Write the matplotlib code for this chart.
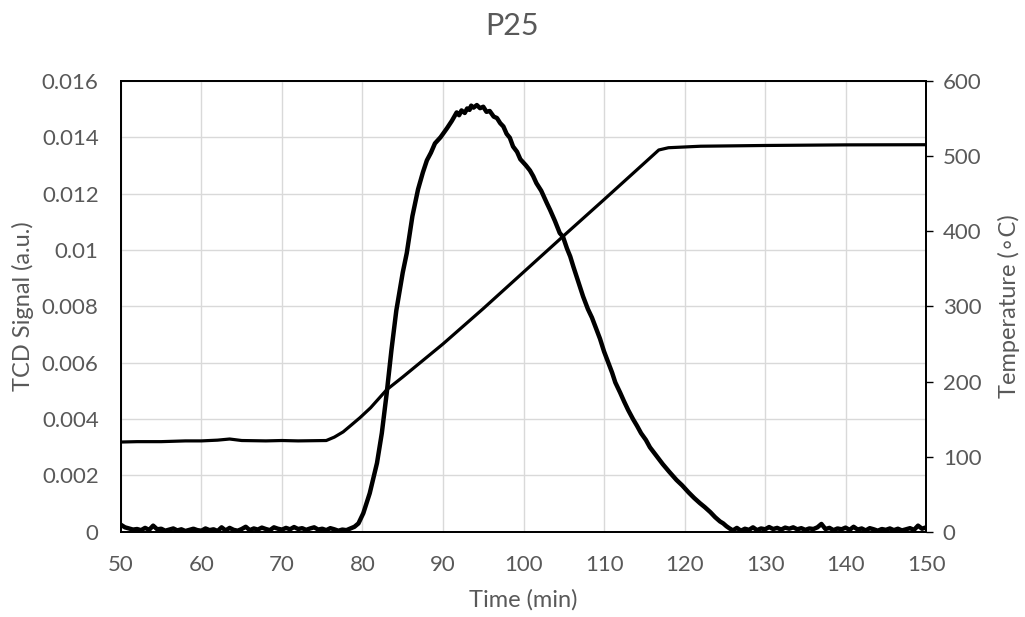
import matplotlib
matplotlib.use("Agg")
import matplotlib.pyplot as plt
import numpy as np

plt.rcParams['font.family'] = ['Lato', 'DejaVu Sans']

# TCD signal (a.u.) - baseline before the peak
t_pre = [50.0, 50.5, 51.0, 51.5, 52.0, 52.5, 53.0, 53.5, 54.0, 54.5, 55.0, 55.5,
         56.0, 56.5, 57.0, 57.5, 58.0, 58.5, 59.0, 59.5, 60.0, 60.5, 61.0, 61.5,
         62.0, 62.5, 63.0, 63.5, 64.0, 64.5, 65.0, 65.5, 66.0, 66.5, 67.0, 67.5,
         68.0, 68.5, 69.0, 69.5, 70.0, 70.5, 71.0, 71.5, 72.0, 72.5, 73.0, 73.5,
         74.0, 74.5, 75.0, 75.5, 76.0, 76.5, 77.0, 77.5, 78.0, 78.5]
tcd_pre = [0.00025, 0.00016, 0.00012, 0.00008, 0.00010, 0.00006, 0.00014, 0.00007,
           0.00022, 0.00009, 0.00011, 0.00004, 0.00008, 0.00012, 0.00005, 0.00009,
           0.00003, 0.00007, 0.00011, 0.00006, 0.00004, 0.00012, 0.00006, 0.00009,
           0.00003, 0.00016, 0.00005, 0.00014, 0.00007, 0.00004, 0.00010, 0.00018,
           0.00006, 0.00012, 0.00008, 0.00015, 0.00010, 0.00006, 0.00016, 0.00011,
           0.00008, 0.00014, 0.00009, 0.00017, 0.00010, 0.00013, 0.00007, 0.00012,
           0.00016, 0.00008, 0.00011, 0.00006, 0.00013, 0.00009, 0.00004, 0.00008,
           0.00006, 0.00012]

# TCD signal - the desorption peak
t_peak = [79.0, 79.5, 80.1, 80.9, 81.8, 82.4, 83.0, 83.6, 84.2, 85.0, 85.5, 86.2,
          86.9, 87.5, 88.0, 88.5, 89.0, 89.7, 90.5, 91.1, 91.7, 92.0, 92.3, 92.7,
          93.0, 93.3, 93.5, 93.8, 94.2, 94.6, 95.0, 95.4, 95.8, 96.3, 96.7, 97.1,
          97.5, 97.9, 98.3, 98.7, 99.2, 99.6, 100.3, 100.8, 101.2, 101.6, 102.2,
          102.9, 103.3, 103.9, 104.5, 104.9, 105.4, 105.8, 106.2, 106.6, 107.0,
          107.4, 108.0, 108.5, 109.0, 109.5, 110.0, 110.5, 111.0, 111.4, 112.0,
          112.5, 113.0, 113.6, 114.1, 114.6, 115.2, 115.7, 116.5, 117.3, 118.1,
          119.0, 119.7, 120.5, 121.2, 121.9, 122.5, 123.2, 123.8, 124.4, 124.8,
          125.2, 125.6]
tcd_peak = [0.00018, 0.00030, 0.00066, 0.00137, 0.00244, 0.00350, 0.00490, 0.00646,
            0.00785, 0.00920, 0.00989, 0.01120, 0.01215, 0.01275, 0.01318, 0.01345,
            0.01378, 0.01400, 0.01432, 0.01458, 0.01488, 0.01478, 0.01495, 0.01486,
            0.01502, 0.01497, 0.01512, 0.01505, 0.01514, 0.01503, 0.01508, 0.01490,
            0.01493, 0.01473, 0.01468, 0.01450, 0.01438, 0.01412, 0.01398, 0.01367,
            0.01348, 0.01322, 0.01300, 0.01282, 0.01262, 0.01237, 0.01210, 0.01166,
            0.01142, 0.01103, 0.01060, 0.01047, 0.01005, 0.00977, 0.00940, 0.00905,
            0.00870, 0.00835, 0.00790, 0.00760, 0.00722, 0.00685, 0.00640, 0.00602,
            0.00565, 0.00530, 0.00494, 0.00462, 0.00432, 0.00400, 0.00376, 0.00350,
            0.00326, 0.00300, 0.00270, 0.00240, 0.00213, 0.00184, 0.00165, 0.00140,
            0.00120, 0.00102, 0.00088, 0.00070, 0.00052, 0.00037, 0.00030, 0.00020,
            0.00012]

# TCD signal - baseline after the peak
t_post = [126.0, 126.5, 127.0, 127.5, 128.0, 128.5, 129.0, 129.5, 130.0, 130.5,
          131.0, 131.5, 132.0, 132.5, 133.0, 133.5, 134.0, 134.5, 135.0, 135.5,
          136.0, 136.5, 137.0, 137.5, 138.0, 138.5, 139.0, 139.5, 140.0, 140.5,
          141.0, 141.5, 142.0, 142.5, 143.0, 143.5, 144.0, 144.5, 145.0, 145.5,
          146.0, 146.5, 147.0, 147.5, 148.0, 148.5, 149.0, 149.5, 150.0]
tcd_post = [0.00005, 0.00014, 0.00004, 0.00011, 0.00007, 0.00016, 0.00006, 0.00012,
            0.00009, 0.00017, 0.00010, 0.00014, 0.00008, 0.00015, 0.00011, 0.00016,
            0.00009, 0.00013, 0.00007, 0.00012, 0.00010, 0.00016, 0.00028, 0.00010,
            0.00014, 0.00006, 0.00012, 0.00009, 0.00015, 0.00007, 0.00018, 0.00008,
            0.00012, 0.00005, 0.00013, 0.00009, 0.00004, 0.00010, 0.00007, 0.00012,
            0.00006, 0.00011, 0.00005, 0.00009, 0.00013, 0.00007, 0.00022, 0.00011,
            0.00016]

# Temperature ramp (deg C)
t_temp = [50.0, 52.0, 55.0, 58.0, 60.0, 62.0, 63.5, 65.0, 68.0, 70.0, 72.0, 75.5,
          76.5, 77.6, 78.6, 79.7, 81.0, 83.0, 85.0, 90.0, 95.0, 100.0, 105.0, 110.0,
          115.0, 116.8, 118.0, 122.0, 130.0, 140.0, 150.0]
temp = [119.5, 120.0, 120.0, 121.0, 121.0, 122.0, 123.5, 121.5, 121.0, 121.5, 121.0,
        121.5, 126.0, 133.0, 142.0, 152.0, 165.0, 189.0, 206.0, 250.0, 297.0, 345.5,
        394.0, 442.0, 490.5, 508.0, 511.0, 513.0, 514.0, 514.8, 515.0]

x_ticks = [50, 60, 70, 80, 90, 100, 110, 120, 130, 140, 150]
y1_ticks = [0, 0.002, 0.004, 0.006, 0.008, 0.01, 0.012, 0.014, 0.016]
y1_labels = ["0", "0.002", "0.004", "0.006", "0.008", "0.01", "0.012", "0.014", "0.016"]
y2_ticks = [0, 100, 200, 300, 400, 500, 600]

t_tcd = t_pre + t_peak + t_post
tcd = tcd_pre + tcd_peak + tcd_post

grey = "#595959"

fig = plt.figure(figsize=(10.25, 6.17), dpi=100)
ax = fig.add_axes([0.118, 0.138, 0.7855, 0.731])
ax2 = ax.twinx()

ax.plot(t_tcd, tcd, color="black", lw=3.2, solid_joinstyle="round", zorder=3)
ax2.plot(t_temp, temp, color="black", lw=2.3, solid_joinstyle="round", zorder=3)

ax.set_xlim(50, 150)
ax.set_ylim(0, 0.016)
ax2.set_ylim(0, 600)

ax.set_xticks(x_ticks)
ax.set_yticks(y1_ticks)
ax.set_yticklabels(y1_labels)
ax2.set_yticks(y2_ticks)

ax.grid(True, color="#d9d9d9", lw=1.0)
ax.set_axisbelow(True)

for a in (ax, ax2):
    for s in a.spines.values():
        s.set_color("black")
        s.set_linewidth(1.3)

ax.tick_params(axis="x", length=0, pad=17, labelsize=16, labelcolor=grey)
ax.tick_params(axis="y", length=0, pad=16, labelsize=16, labelcolor=grey)
ax2.tick_params(axis="y", length=5, width=1, color="black", direction="out",
                pad=7, labelsize=16, labelcolor=grey)

ax.set_xlabel("Time (min)", fontsize=17, color=grey, labelpad=10)
ax.set_ylabel("TCD Signal (a.u.)", fontsize=17, color=grey, labelpad=6)
ax2.set_ylabel("Temperature (\u2218C)", fontsize=17, color=grey, labelpad=12)

fig.text(0.5, 0.958, "P25", ha="center", va="center", fontsize=22, color=grey)

fig.savefig("out.png", dpi=100)
